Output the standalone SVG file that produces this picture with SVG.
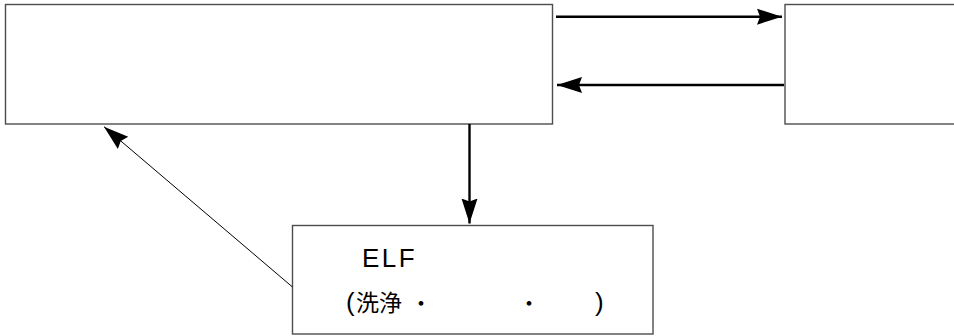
<svg xmlns="http://www.w3.org/2000/svg" width="954" height="336" viewBox="0 0 954 336">
<style>
.box{fill:#fff;stroke:#4d4d4d;stroke-width:1.4}
.thick{stroke:#000;stroke-width:2.4;fill:none}
.thin{stroke:#000;stroke-width:1;fill:none}
.t{font-family:"Liberation Sans","Noto Sans CJK JP",sans-serif;fill:#000}
.dot{font-family:"Noto Sans CJK JP",sans-serif;font-size:22px}
</style>
<defs>
<marker id="ah" markerUnits="userSpaceOnUse" markerWidth="26" markerHeight="18" refX="25" refY="8" orient="auto">
<path d="M0,0 L25,8 L0,16 L3,8 Z" fill="#000"/>
</marker>
</defs>
<g id="node-main"><rect class="box" x="5.5" y="4.5" width="547" height="119.5"/></g>
<g id="node-right"><rect class="box" x="785" y="4.5" width="175" height="119.5"/></g>
<g id="node-elf">
<rect class="box" x="292.5" y="225.5" width="360.5" height="108.5"/>
<text class="t" x="362" y="267" font-size="26" letter-spacing="2.5">ELF</text>
<text class="t" y="311" font-size="26"><tspan x="346">(</tspan><tspan x="356" font-size="23">洗浄</tspan><tspan class="dot" x="410">・</tspan><tspan class="dot" x="518">・</tspan><tspan x="595">)</tspan></text>
</g>
<g id="connectors">
<line class="thick" x1="556" y1="16.7" x2="782" y2="16.7" marker-end="url(#ah)"/>
<line class="thick" x1="784" y1="85" x2="557" y2="85" marker-end="url(#ah)"/>
<line class="thick" x1="469.5" y1="124" x2="469.5" y2="223.5" marker-end="url(#ah)"/>
<line class="thin" x1="292.5" y1="287" x2="104" y2="126.7" marker-end="url(#ah)"/>
</g>
</svg>
